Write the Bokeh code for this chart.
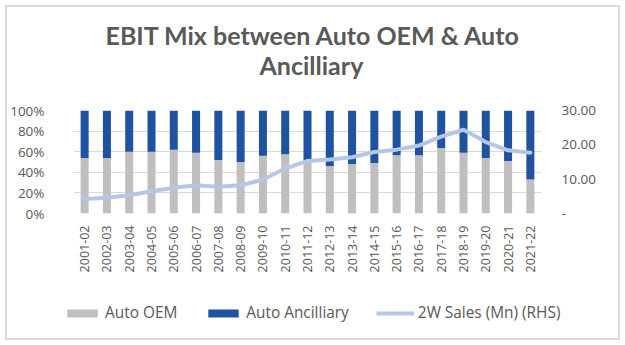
import math
from bokeh.plotting import figure
from bokeh.layouts import column
from bokeh.models import (FactorRange, Range1d, LinearAxis, FixedTicker, NumeralTickFormatter,
                          CustomJSTickFormatter, Legend, LegendItem, Title, ColumnDataSource)
from bokeh.embed import file_html
from bokeh.resources import INLINE

years = ["2001-02", "2002-03", "2003-04", "2004-05", "2005-06", "2006-07", "2007-08",
         "2008-09", "2009-10", "2010-11", "2011-12", "2012-13", "2013-14", "2014-15",
         "2015-16", "2016-17", "2017-18", "2018-19", "2019-20", "2020-21", "2021-22"]
auto_oem = [0.54, 0.54, 0.60, 0.60, 0.62, 0.59, 0.52, 0.50, 0.56, 0.575, 0.52, 0.46,
            0.48, 0.49, 0.565, 0.565, 0.635, 0.59, 0.54, 0.51, 0.33]
auto_anc = [1 - v for v in auto_oem]
sales_2w = [4.2, 4.6, 5.3, 6.5, 7.5, 8.2, 7.8, 8.2, 9.9, 13.1, 15.3, 15.7,
            16.4, 17.9, 18.6, 19.8, 22.4, 24.4, 20.8, 18.4, 17.7]
series_names = ["Auto OEM", "Auto Ancilliary", "2W Sales (Mn) (RHS)"]
title_lines = ["EBIT Mix between Auto OEM & Auto", "Ancilliary"]

TXT = "#595959"
FONT = "Open Sans"
C_OEM, C_ANC, C_LINE = "#bfbfbf", "#1f52a0", "#b4c7e7"

src = ColumnDataSource(dict(year=years, oem=auto_oem, anc=auto_anc,
                            one=[1.0] * len(years), sales=sales_2w))

p = figure(x_range=FactorRange(factors=years, range_padding=0), y_range=Range1d(0, 1),
           width=625, height=300, title=None, toolbar_location=None, output_backend="svg",
           min_border_left=73, min_border_right=84, min_border_top=110, min_border_bottom=87)
p.outline_line_color = None
p.background_fill_color = "white"
p.border_fill_color = None

p.extra_y_ranges = {"rhs": Range1d(0, 30)}

p.vbar(x="year", top="oem", bottom=0, width=0.36, source=src,
       fill_color=C_OEM, line_color=None)
p.vbar(x="year", top="one", bottom="oem", width=0.36, source=src,
       fill_color=C_ANC, line_color=None)
p.line(x="year", y="sales", source=src, y_range_name="rhs",
       line_color=C_LINE, line_width=4, line_join="round", line_cap="round")

# grid
p.xgrid.grid_line_color = None
p.ygrid.grid_line_color = "#d9d9d9"
p.ygrid.ticker = FixedTicker(ticks=[0, 0.2, 0.4, 0.6, 0.8, 1.0])

# left axis
ya = p.yaxis[0]
ya.ticker = FixedTicker(ticks=[0, 0.2, 0.4, 0.6, 0.8, 1.0])
ya.formatter = NumeralTickFormatter(format="0%")
ya.axis_line_color = None
ya.major_tick_line_color = None
ya.minor_tick_line_color = None
ya.major_tick_out = 0
ya.major_tick_in = 0
ya.major_label_standoff = 29
ya.major_label_text_font = FONT
ya.major_label_text_font_size = "13.5px"
ya.major_label_text_color = TXT

# right axis
ra = LinearAxis(y_range_name="rhs", ticker=FixedTicker(ticks=[0, 10, 20, 30]),
                formatter=CustomJSTickFormatter(code="return tick == 0 ? '-' : tick.toFixed(2);"))
ra.axis_line_color = None
ra.major_tick_line_color = None
ra.minor_tick_line_color = None
ra.major_tick_out = 0
ra.major_tick_in = 0
ra.major_label_standoff = 20
ra.major_label_text_font = FONT
ra.major_label_text_font_size = "13.5px"
ra.major_label_text_color = TXT
p.add_layout(ra, "right")

# x axis
xa = p.xaxis[0]
xa.axis_line_color = None
xa.major_tick_line_color = None
xa.minor_tick_line_color = None
xa.major_tick_out = 0
xa.major_tick_in = 0
xa.major_label_orientation = math.pi / 2
xa.major_label_standoff = 12
xa.major_label_text_font = FONT
xa.major_label_text_font_size = "12.5px"
xa.major_label_text_color = TXT

# title (two lines, each its own Title; the first added sits closest to the frame)
t2 = Title(text=title_lines[1], align="left", offset=186, text_font="Lato",
           text_font_size="25px", text_font_style="bold", text_color=TXT, standoff=62)
t1 = Title(text=title_lines[0], align="left", offset=32, text_font="Lato",
           text_font_size="25px", text_font_style="bold", text_color=TXT, standoff=-67)
p.add_layout(t2, "above")
p.add_layout(t1, "above")

# legend strip (separate figure underneath); its renderers reuse the data but sit
# outside the strip's visible ranges, so only the legend shows
lg = figure(width=625, height=45, x_range=FactorRange(factors=years, range_padding=0),
            y_range=Range1d(1000, 1001), toolbar_location=None, output_backend="svg",
            title=None, x_axis_location=None, y_axis_location=None,
            min_border_left=0, min_border_right=0, min_border_top=0, min_border_bottom=0)
lg.frame_align = False
p.frame_align = False
lg.grid.visible = False
lg.outline_line_color = None
lg.border_fill_color = None
lg.background_fill_color = None
g1 = lg.vbar(x="year", top="oem", width=0.36, source=src, fill_color=C_OEM, line_color=None)
g2 = lg.vbar(x="year", top="one", bottom="oem", width=0.36, source=src,
             fill_color=C_ANC, line_color=None)
g3 = lg.line(x="year", y="sales", source=src, line_color=C_LINE, line_width=4)
legend = Legend(items=[LegendItem(label=series_names[0], renderers=[g1]),
                       LegendItem(label=series_names[1], renderers=[g2]),
                       LegendItem(label=series_names[2], renderers=[g3])],
                orientation="horizontal", location=(63, 22), border_line_color=None,
                background_fill_alpha=0, glyph_width=38, glyph_height=10, label_standoff=4,
                spacing=27, padding=0, margin=0,
                label_text_font=FONT, label_text_font_size="15.4px", label_text_color=TXT)
lg.add_layout(legend, "center")

layout = column(p, lg, spacing=0,
                styles={"outline": "2px solid #dadada", "outline-offset": "-7px"})

open("out.html", "w").write(file_html(layout, INLINE))
